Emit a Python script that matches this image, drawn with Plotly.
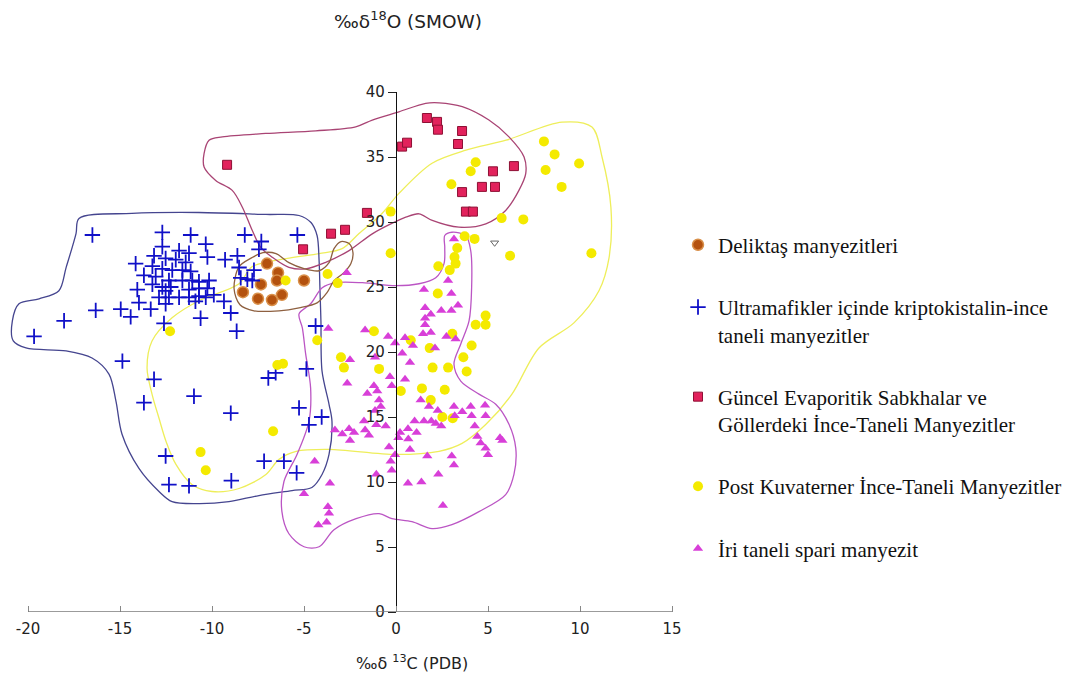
import plotly.graph_objects as go

# ---------------- data ----------------
x_ticks = [-20, -15, -10, -5, 0, 5, 10, 15]
x_tick_labels = ["-20", "-15", "-10", "-5", "0", "5", "10", "15"]
y_ticks = [0, 5, 10, 15, 20, 25, 30, 35, 40]
y_tick_labels = ["0", "5", "10", "15", "20", "25", "30", "35", "40"]

series_names = [
    "Deliktaş manyezitleri",
    "Ultramafikler içinde kriptokistalin-ince<br>taneli manyezitler",
    "Güncel Evaporitik Sabkhalar ve<br>Göllerdeki İnce-Taneli Manyezitler",
    "Post Kuvaterner İnce-Taneli Manyezitler",
    "İri taneli spari manyezit",
]

deliktas_c = [-7.01, -6.41, -6.47, -5.0, -7.34, -8.32, -7.5, -6.74, -6.2]
deliktas_o = [26.8, 26.1, 25.5, 25.5, 25.2, 24.6, 24.1, 24.0, 24.4]

ultramafik_c = [-16.5, -12.7, -11.16, -8.22, -5.36, -10.34, -7.32, -7.45, -12.7, -11.79,
                -11.25, -13.15, -12.52, -11.97, -11.43, -10.25, -9.29, -8.62, -14.15, -13.24,
                -12.7, -12.16, -11.61, -11.16, -13.7, -13.06, -12.34, -11.61, -11.07, -10.71,
                -10.16, -13.24, -12.7, -12.24, -11.25, -10.71, -10.25, -14.06, -12.52, -12.88,
                -12.34, -11.79, -11.25, -10.71, -10.34, -13.97, -13.33, -12.52, -14.96, -14.42,
                -16.32, -18.04, -19.67, -9.35, -8.98, -10.62, -12.61, -8.66, -8.44, -8.08,
                -7.81, -7.72, -8.53, -4.37, -14.87, -13.15, -10.98, -13.7, -8.98, -6.94,
                -6.54, -4.87, -5.27, -4.04, -4.73, -12.52, -7.17, -6.09, -5.40, -12.34,
                -11.25, -8.95, -9.9, -10.9]
ultramafik_o = [29.0, 29.2, 29.0, 29.0, 29.0, 28.3, 28.5, 27.9, 28.1, 27.8,
                27.6, 27.4, 27.2, 27.1, 26.9, 27.3, 27.1, 27.4, 26.8, 26.6,
                26.4, 26.3, 26.3, 26.2, 25.9, 25.8, 25.5, 25.5, 25.5, 25.4,
                25.5, 25.2, 25.0, 25.0, 24.8, 24.9, 24.9, 24.8, 24.7, 24.2,
                24.2, 24.2, 24.2, 24.3, 24.2, 23.8, 23.3, 23.7, 23.3, 22.7,
                23.2, 22.4, 21.2, 23.9, 23.0, 22.6, 22.2, 21.6, 25.7, 25.6,
                25.5, 26.3, 26.5, 22.0, 19.3, 17.9, 16.6, 16.1, 15.3, 18.0,
                18.4, 18.7, 15.7, 15.0, 14.4, 12.0, 11.6, 11.6, 10.7, 9.8,
                9.7, 10.1, 24.4, 23.9]

guncel_c = [-9.18, 1.68, 2.23, 2.28, 3.59, 0.33, 0.60, 3.37, 5.27, 6.41,
            3.59, 4.67, 5.38, 3.80, 4.18, -1.58, -3.53, -2.77, -5.05]
guncel_o = [34.4, 38.0, 37.7, 37.1, 37.0, 35.8, 36.1, 36.0, 33.9, 34.3,
            32.3, 32.7, 32.7, 30.8, 30.8, 30.7, 29.1, 29.4, 27.9]

postkuv_c = [-0.29, -0.29, -3.72, -3.17, -6.0, 4.33, 4.06, 3.01, 5.74, 6.92,
             3.73, 4.27, 6.20, 8.04, 8.62, 8.13, 9.95, 9.0, 10.62, 3.33,
             3.18, 3.24, 2.30, 2.92, 2.27, 4.87, -1.20, -4.28, -2.99, -2.83,
             -0.92, 0.80, 1.83, 1.99, 2.83, 1.41, 0.26, 1.89, 2.65, 3.06,
             3.66, 3.84, 4.11, 4.33, 4.87, 2.52, 3.08, -6.45, -6.14, -12.28,
             -6.68, -10.62, -10.34]
postkuv_o = [30.8, 27.6, 26.0, 25.3, 25.5, 34.6, 33.9, 32.9, 30.3, 30.2,
             28.9, 28.7, 27.4, 36.2, 35.2, 34.0, 34.5, 32.7, 27.6, 28.0,
             27.3, 26.8, 26.6, 26.3, 24.5, 22.8, 21.6, 20.9, 19.6, 18.8,
             18.7, 20.9, 20.3, 18.8, 18.8, 17.2, 17.0, 16.3, 17.1, 21.4,
             19.6, 18.5, 20.5, 22.1, 22.1, 15.0, 14.9, 19.0, 19.1, 21.6,
             13.9, 12.3, 10.9]

iri_c = [-3.68, -1.68, -0.43, -0.05, 0.49, 0.92, 0.34, -2.50, -1.14, 0.76,
         -2.65, -0.33, 0.49, -1.20, -1.02, -1.56, -0.23, -0.92, -0.83, -1.14,
         -1.74, -1.07, -0.56, -3.32, -2.92, -2.55, -2.28, -2.50, -1.68, -1.47,
         -0.38, -0.05, -0.29, -0.23, -1.07, -4.42, -3.59, -5.0, -3.70, -3.64,
         -3.77, -4.22,
         1.58, 2.46, 3.01, 3.37, 1.58, 1.89, 1.58, 1.47, 1.89, 2.74,
         3.24, 2.12, 1.34, 1.79, 2.27, 3.15, 3.60, 4.06, 4.84, 3.19,
         4.11, 4.87, 1.01, 1.52, 1.92, 2.16, 2.46, 4.28, 0.22, 0.65,
         1.12, 0.67, 0.13, 0.76, 4.42, 4.60, 4.87, 5.0, 5.65, 5.78,
         1.70, 3.03, 3.15, 2.30, 0.65, 1.38, 2.55,
         3.15, 2.83, 1.52, 3.01, -2.68]
iri_o = [21.8, 21.7, 21.2, 20.7, 21.1, 20.5, 19.9, 19.4, 19.6, 19.2,
         17.6, 18.1, 17.9, 17.4, 17.0, 16.8, 17.4, 16.3, 15.8, 15.5,
         14.7, 14.4, 14.3, 14.0, 13.7, 14.1, 13.8, 13.2, 14.0, 13.6,
         12.7, 12.1, 11.6, 10.9, 10.6, 11.6, 9.9, 9.1, 8.1, 7.6,
         6.9, 6.7,
         23.4, 23.2, 23.2, 23.6, 22.6, 22.9, 22.1, 21.4, 21.5, 21.2,
         21.0, 20.3, 16.3, 15.8, 15.5, 15.8, 15.4, 15.8, 15.9, 15.1,
         15.1, 15.1, 14.7, 14.7, 14.7, 14.5, 14.3, 14.3, 13.8, 14.1,
         13.8, 13.3, 13.4, 12.5, 13.5, 13.0, 12.6, 12.1, 13.4, 13.2,
         12.0, 12.0, 11.3, 10.6, 9.9, 10.0, 8.2,
         28.7, 25.5, 24.8, 24.5, 26.1]

stray_c = [5.36]
stray_o = [28.4]

# field boundaries (closed outlines) in data units
ultramafik_field_c = [-17.23, -14.35, -10.71, -7.07, -5.27, -4.62, -4.29, -4.18, -4.13, -4.08,
                      -4.02, -3.64, -3.48, -3.64, -4.02, -4.57, -5.65, -7.45, -9.08, -10.71,
                      -12.17, -12.88, -13.97, -14.89, -15.22, -15.60, -16.52, -17.93, -20.11, -20.80,
                      -20.85, -20.49, -19.40, -18.32, -17.93, -17.39]
ultramafik_field_o = [30.27, 30.66, 30.73, 30.58, 30.50, 29.96, 28.96, 27.03, 24.71, 22.39,
                      18.53, 15.98, 14.67, 12.12, 10.58, 9.58, 9.34, 8.96, 8.49, 8.34,
                      8.49, 9.27, 11.04, 13.67, 16.22, 18.30, 19.54, 20.08, 20.31, 20.85,
                      22.39, 23.71, 24.09, 24.71, 26.49, 29.11]

deliktas_field_c = [-8.53, -7.83, -7.23, -6.52, -5.82, -5.00, -4.18, -3.64, -3.37, -2.99,
                    -2.55, -2.34, -2.45, -2.83, -3.37, -3.75, -4.29, -5.27, -6.36, -7.72,
                    -8.48, -8.80]
deliktas_field_o = [26.56, 27.26, 27.64, 27.57, 26.87, 26.41, 26.25, 26.87, 27.95, 28.49,
                    28.34, 27.64, 26.80, 26.10, 25.48, 24.56, 23.78, 23.40, 23.17, 23.17,
                    23.63, 24.86]

guncel_field_c = [-10.43, -10.16, -9.44, -7.08, -4.36, -2.19, -1.29, 0.16, 1.61, 2.34,
                  3.60, 5.05, 6.14, 6.96, 7.05, 6.68, 5.96, 4.88, 3.42, 1.97,
                  1.25, 0.53, -0.20, -1.29, -2.55, -3.82, -4.91, -5.82, -6.72, -7.35,
                  -7.81, -8.35, -8.90, -9.80, -10.43]
guncel_field_o = [35.27, 36.29, 36.55, 36.81, 37.01, 37.32, 37.84, 38.48, 39.13, 39.17,
                  38.87, 37.84, 36.55, 35.00, 33.72, 32.43, 30.89, 29.86, 29.60, 30.12,
                  30.63, 30.37, 29.91, 29.09, 27.80, 26.90, 26.39, 26.51, 27.28, 28.05,
                  29.34, 31.14, 32.43, 33.20, 34.23]

postkuv_field_c = [-13.26, -12.17, -10.71, -8.53, -7.83, -5.98, -4.18, -2.93, -2.01, -0.76,
                   0.16, 1.96, 3.80, 5.98, 9.02, 10.65, 11.20, 11.68, 11.58, 11.03,
                   9.67, 7.77, 6.30, 4.89, 3.59, 2.34, 0.0, -3.64, -5.43, -6.36,
                   -7.07, -8.53, -10.0, -11.09, -11.96, -12.5, -12.88, -13.26, -13.53]
postkuv_field_o = [20.85, 22.63, 23.94, 25.25, 26.56, 27.18, 27.57, 27.95, 29.11, 30.66,
                   32.20, 34.52, 35.52, 36.29, 37.68, 37.30, 34.98, 31.12, 27.26, 24.71,
                   22.24, 20.31, 16.76, 14.44, 12.97, 12.36, 12.12, 12.51, 12.36, 11.74,
                   10.58, 9.50, 9.27, 9.81, 11.35, 13.13, 14.90, 16.76, 18.76]

iri_field_c = [2.65, 3.04, 3.79, 4.06, 4.11, 3.97, 3.52, 3.15, 3.52, 4.51,
               5.42, 6.14, 6.51, 6.41, 5.96, 4.51, 3.04, 1.96, 0.87, -0.22,
               -0.92, -2.17, -3.37, -4.18, -5.0, -5.82, -6.20, -6.09, -5.38, -4.73,
               -4.64, -4.91, -5.09, -5.27, -4.64, -4.01, -3.28, -1.83, -0.02, 1.25,
               2.16, 2.61, 2.65]
iri_field_o = [28.96, 29.21, 28.96, 27.80, 24.94, 22.39, 20.62, 19.07, 17.76, 16.76,
               15.98, 14.44, 12.59, 10.58, 9.03, 7.72, 6.72, 6.41, 6.95, 7.18,
               7.57, 7.18, 6.33, 5.02, 5.02, 6.02, 7.72, 10.04, 12.12, 14.67,
               17.22, 19.85, 21.85, 22.93, 23.71, 24.94, 25.33, 25.33, 25.10, 25.25,
               25.71, 26.80, 28.03]

# ---------------- figure ----------------
# page layout (the page body adds an 8 px offset)
PLOT_W = 668.0
PLOT_H = 520.0
X_RANGE = [-21.087, 15.217]

fig = go.Figure()


def closed(xs, ys):
    return list(xs) + [xs[0]], list(ys) + [ys[0]]


fields = [
    (postkuv_field_c, postkuv_field_o, "#eeee5a"),
    (ultramafik_field_c, ultramafik_field_o, "#45458f"),
    (guncel_field_c, guncel_field_o, "#a94474"),
    (iri_field_c, iri_field_o, "#bb55c4"),
    (deliktas_field_c, deliktas_field_o, "#8e6040"),
]
for fx, fy, col in fields:
    cx, cy = closed(fx, fy)
    fig.add_trace(go.Scatter(
        x=cx, y=cy, mode="lines",
        line=dict(color=col, width=1.3, shape="spline", smoothing=0.9),
        hoverinfo="skip", showlegend=False))

fig.add_trace(go.Scatter(
    x=stray_c, y=stray_o, mode="markers", showlegend=False, hoverinfo="skip",
    marker=dict(symbol="triangle-down-open", size=7, color="#666",
                line=dict(width=1, color="#666"))))

fig.add_trace(go.Scatter(
    x=deliktas_c, y=deliktas_o, mode="markers", name=series_names[0], legendgroup="g1",
    marker=dict(symbol="circle", size=11, color="#b4520f", line=dict(width=1.5, color="#d9904a"))))
fig.add_trace(go.Scatter(
    x=ultramafik_c, y=ultramafik_o, mode="markers", name=series_names[1], legendgroup="g2",
    marker=dict(symbol="cross-thin", size=11, color="#1010c8", line=dict(width=1.8, color="#1010c8"))))
fig.add_trace(go.Scatter(
    x=guncel_c, y=guncel_o, mode="markers", name=series_names[2], legendgroup="g3",
    marker=dict(symbol="square", size=9, color="#e2225c", line=dict(width=1, color="#8e1034"))))
fig.add_trace(go.Scatter(
    x=postkuv_c, y=postkuv_o, mode="markers", name=series_names[3], legendgroup="g4",
    marker=dict(symbol="circle", size=10, color="#f4ea00", line=dict(width=0))))
fig.add_trace(go.Scatter(
    x=iri_c, y=iri_o, mode="markers", name=series_names[4], legendgroup="g5",
    marker=dict(symbol="triangle-up", size=9, color="#d83fd8", line=dict(width=0))))

axis_font = dict(family="DejaVu Sans", size=15, color="#222")
zero_px = (0 - X_RANGE[0]) / (X_RANGE[1] - X_RANGE[0]) * PLOT_W

fig.update_layout(
    width=1072, height=677,
    margin=dict(l=0, r=1072 - PLOT_W, t=84, b=677 - 84 - PLOT_H),
    paper_bgcolor="white", plot_bgcolor="white",
    showlegend=True,
    legend=dict(x=1.003, xanchor="left", y=0.745, yanchor="top",
                font=dict(family="Liberation Serif", size=21, color="#111"),
                tracegroupgap=32, valign="top", traceorder="grouped",
                bgcolor="rgba(0,0,0,0)", borderwidth=0),
    xaxis=dict(range=X_RANGE, domain=[0, 1], tickvals=x_ticks, ticktext=x_tick_labels,
               ticks="inside", ticklen=6, tickcolor="#888", tickwidth=1.3,
               ticklabelstandoff=6,
               showline=False, showgrid=False, zeroline=False, tickfont=axis_font),
    yaxis=dict(range=[0, 40], anchor="free", position=zero_px / PLOT_W,
               tickvals=y_ticks, ticktext=y_tick_labels,
               ticks="outside", ticklen=8, tickcolor="#222",
               showline=True, linecolor="#111", linewidth=1.2,
               showgrid=False, zeroline=False, tickfont=axis_font),
    shapes=[dict(type="line", xref="x", yref="y", x0=-20, x1=15, y0=0, y1=0,
                 line=dict(color="#7a7a7a", width=1.6), layer="above")],
    annotations=[
        dict(text="‰δ<sup>18</sup>O (SMOW)", xref="paper", yref="paper",
             x=400 / PLOT_W, y=(604 - 12) / PLOT_H, xanchor="center", yanchor="middle",
             showarrow=False, font=dict(family="DejaVu Sans", size=18.5, color="#222")),
        dict(text="‰δ <sup>13</sup>C (PDB)", xref="paper", yref="paper",
             x=404 / PLOT_W, y=(604 - 654) / PLOT_H, xanchor="center", yanchor="middle",
             showarrow=False, font=dict(family="DejaVu Sans", size=16, color="#222")),
    ],
)

fig.write_html("out.html")
